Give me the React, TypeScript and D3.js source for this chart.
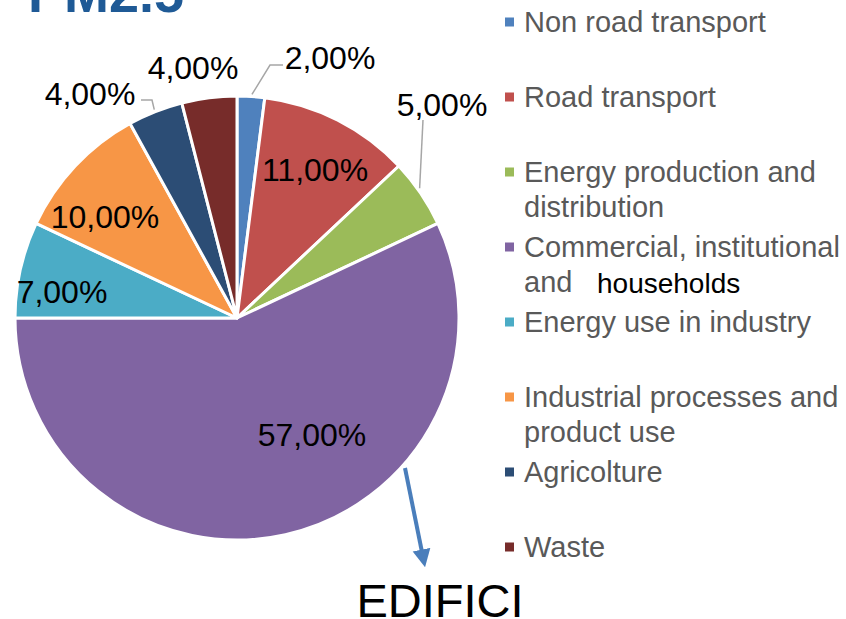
import * as d3 from "d3";

const categories = [
  "Non road transport",
  "Road transport",
  "Energy production and distribution",
  "Commercial, institutional and households",
  "Energy use in industry",
  "Industrial processes and product use",
  "Agricolture",
  "Waste",
];
const shares = [2, 11, 5, 57, 7, 10, 4, 4];
const valueLabels = ["2,00%", "11,00%", "5,00%", "57,00%", "7,00%", "10,00%", "4,00%", "4,00%"];
const legendLines = [
  ["Non road transport"],
  ["Road transport"],
  ["Energy production and", "distribution"],
  ["Commercial, institutional", "and"],
  ["Energy use in industry"],
  ["Industrial processes and", "product use"],
  ["Agricolture"],
  ["Waste"],
];
const colors = ["#4F81BD", "#C0504D", "#9BBB59", "#8064A2", "#4BACC6", "#F79646", "#2C4D75", "#772C2A"];

// label placement (absolute, in px) as Excel put them
const labelPos: [number, number][] = [
  [330, 58], [315, 170], [442, 105], [312, 435], [62, 292], [105, 217], [90, 94], [193, 68],
];

const W = 846;
const H = 619;
const cx = 237;
const cy = 318;
const R = 222;

export default function App() {
  const pie = d3.pie<number>().sort(null).value((d) => d);
  const arcs = pie(shares);
  const arc = d3.arc<d3.PieArcDatum<number>>().innerRadius(0).outerRadius(R);
  const color = d3.scaleOrdinal<string, string>().domain(categories).range(colors);
  const legendY = d3.scaleLinear().domain([0, categories.length - 1]).range([22, 547]);

  const pt = (a: number, r: number) => [cx + r * Math.sin(a), cy - r * Math.cos(a)];
  const a0 = pt((arcs[0].startAngle + arcs[0].endAngle) / 2, R);
  const a2 = pt((arcs[2].startAngle + arcs[2].endAngle) / 2, R);
  const a6 = pt((arcs[6].startAngle + arcs[6].endAngle) / 2, R);

  return (
    <svg width={W} height={H} style={{ position: "absolute", left: 0, top: 0, background: "#fff" }}
      fontFamily="'Liberation Sans', Arial, sans-serif">
      <defs>
        <marker id="ah" viewBox="0 0 10 10" refX="7" refY="5" markerWidth="4.5" markerHeight="5" orient="auto">
          <path d="M0,0 L10,5 L0,10 z" fill="#4A7EBB" />
        </marker>
      </defs>
      <text x={28} y={12} fontSize={54} fontWeight="bold" fill="#1F5A96">PM2.5</text>

      <g transform={`translate(${cx},${cy})`}>
        {arcs.map((d, i) => (
          <path key={i} d={arc(d) ?? ""} fill={color(categories[i])} stroke="#fff" strokeWidth={3} strokeLinejoin="round" />
        ))}
      </g>

      {/* leader lines */}
      <g stroke="#A6A6A6" strokeWidth={1.5} fill="none">
        <polyline points={`${a0[0] + 1},${a0[1] - 2} 270,65 283,65`} />
        <polyline points={`${a2[0] - 1},${a2[1] - 5} 423,120`} />
        <polyline points={`${a6[0] - 1},${a6[1] - 2} 152,100 141,100`} />
      </g>

      {valueLabels.map((t, i) => (
        <text key={i} x={labelPos[i][0]} y={labelPos[i][1]} fontSize={32} fill="#000"
          textAnchor="middle" dominantBaseline="central">{t}</text>
      ))}

      {/* legend */}
      {legendLines.map((lines, i) => (
        <g key={i} transform={`translate(0,${legendY(i)})`}>
          <rect x={505} y={-4.5} width={9} height={9} fill={color(categories[i])} />
          {lines.map((l, j) => (
            <text key={j} x={524} y={j * 35} fontSize={29} fill="#595959" dominantBaseline="central">{l}</text>
          ))}
        </g>
      ))}
      <text x={597} y={legendY(3) + 36} fontSize={28} fill="#000" dominantBaseline="central">households</text>

      {/* annotation */}
      <line x1={405} y1={468} x2={424} y2={562} stroke="#4A7EBB" strokeWidth={4} markerEnd="url(#ah)" />
      <text x={440} y={617} fontSize={47} fill="#000" textAnchor="middle">EDIFICI</text>
    </svg>
  );
}
